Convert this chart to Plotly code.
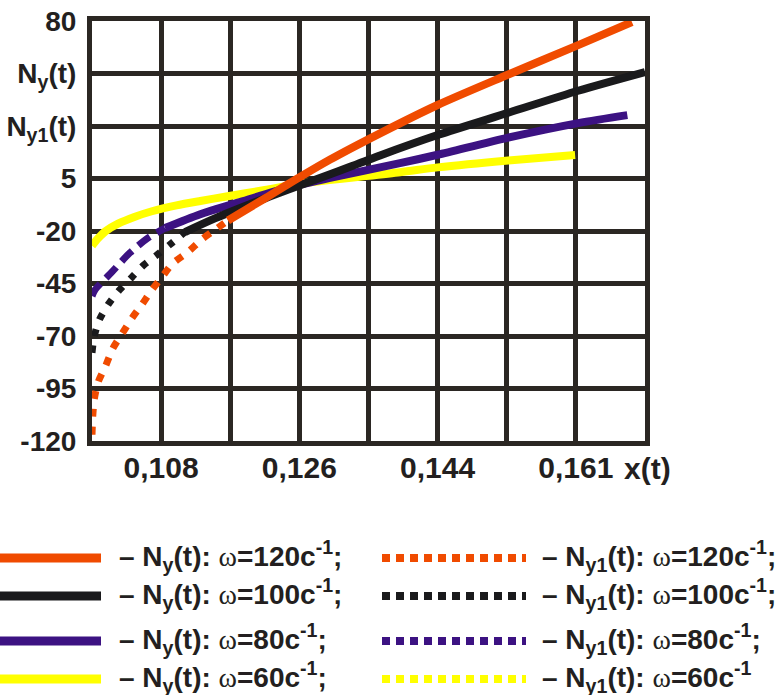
import plotly.graph_objects as go

# ---------------- data ----------------
x_ticks = [0.099, 0.108, 0.117, 0.126, 0.135, 0.144, 0.153, 0.162, 0.171]
x_ticktext = ["", "0,108", "", "0,126", "", "0,144", "", "0,161", ""]
y_ticks = [-120, -95, -70, -45, -20, 5, 30, 55, 80]
y_ticktext = ["-120", "-95", "-70", "-45", "-20", "5",
              "N<sub>y1</sub>(t)", "N<sub>y</sub>(t)", "80"]

# omega = 120 c^-1
ny1_120_x = [0.0990, 0.0991, 0.0993, 0.0998, 0.1008, 0.1017, 0.1029, 0.1042,
             0.1055, 0.1068, 0.1081, 0.1095, 0.1115, 0.1133, 0.1150, 0.1167]
ny1_120_y = [-117, -108, -100, -92, -84, -76, -69, -61.5,
             -55, -48, -42, -35.5, -30, -24, -19.5, -15]
ny_120_x = [0.1167, 0.1215, 0.1244, 0.1300, 0.1365, 0.1440, 0.1532, 0.1623, 0.1693]
ny_120_y = [-15, -4.5, 2, 14, 26.5, 40, 54.5, 68.5, 79.5]

# omega = 100 c^-1
ny1_100_x = [0.0990, 0.0993, 0.1000, 0.1011, 0.1026, 0.1042, 0.1058, 0.1076, 0.1094, 0.1111]
ny1_100_y = [-78, -70, -62, -55, -48, -42, -36, -31, -25.7, -20.5]
ny_100_x = [0.1111, 0.1150, 0.1215, 0.1244, 0.1300, 0.1365, 0.1440, 0.1532, 0.1623, 0.1710]
ny_100_y = [-20.5, -14, -4.5, -0.5, 7, 16, 25.7, 36.3, 46.8, 55.7]

# omega = 80 c^-1
ny1_80_x = [0.0990, 0.0994, 0.1016, 0.1039, 0.1063, 0.1085]
ny1_80_y = [-51, -48, -39.5, -30.5, -23.3, -18.6]
ny_80_x = [0.1085, 0.1131, 0.1180, 0.1244, 0.1300, 0.1391, 0.1440, 0.1532, 0.1623, 0.1687]
ny_80_y = [-18.6, -12, -6.5, 0.5, 5.3, 12.3, 16.3, 24.5, 31.4, 35.2]

# omega = 60 c^-1
ny_60_x = [0.0990, 0.0998, 0.1008, 0.1024, 0.1046, 0.1068, 0.1100, 0.1131, 0.1163,
           0.1215, 0.1261, 0.1391, 0.1440, 0.1532, 0.1619]
ny_60_y = [-27, -23.5, -20, -16.5, -13.2, -10.6, -7.8, -5.7, -3.7,
           -0.5, 2.5, 8.0, 10.3, 13.6, 16.2]

legend_left = ["– N<sub>y</sub>(t): {w}=120c<sup>-1</sup>;",
               "– N<sub>y</sub>(t): {w}=100c<sup>-1</sup>;",
               "– N<sub>y</sub>(t): {w}=80c<sup>-1</sup>;",
               "– N<sub>y</sub>(t): {w}=60c<sup>-1</sup>;"]
legend_right = ["– N<sub>y1</sub>(t): {w}=120c<sup>-1</sup>;",
                "– N<sub>y1</sub>(t): {w}=100c<sup>-1</sup>;",
                "– N<sub>y1</sub>(t): {w}=80c<sup>-1</sup>;",
                "– N<sub>y1</sub>(t): {w}=60c<sup>-1</sup>"]

# ---------------- styling ----------------
W, H = 781, 695
PL, PR, PT, PB = 92, 645, 21, 441          # plot area in pixels
ORANGE, BLACK, PURPLE, YELLOW = "#f04b00", "#1a1a1c", "#3c1282", "#ffff00"
colors = [ORANGE, BLACK, PURPLE, YELLOW]
GRID = "#2b2723"
TXT = "#231f20"
FONT = "Liberation Sans"
OMEGA = "<span style='font-family:Liberation Serif;font-weight:normal'>ω</span>"

fig = go.Figure()

def add(x, y, color, dash=None, width=8):
    fig.add_trace(go.Scatter(x=x, y=y, mode="lines", cliponaxis=False,
                             line=dict(color=color, width=width, dash=dash,
                                       shape="spline", smoothing=0.8),
                             showlegend=False, hoverinfo="skip"))

add(ny1_120_x, ny1_120_y, ORANGE, "8px,10px", 7)
add(ny1_100_x, ny1_100_y, BLACK, "7px,10px", 7)
add(ny1_80_x, ny1_80_y, PURPLE, "15px,8px", 7)
add(ny_60_x, ny_60_y, YELLOW)
add(ny_80_x, ny_80_y, PURPLE)
add(ny_100_x, ny_100_y, BLACK)
add(ny_120_x, ny_120_y, ORANGE)

fig.update_layout(
    width=W, height=H, autosize=False, template="none",
    margin=dict(l=0, r=0, t=0, b=0),
    paper_bgcolor="white", plot_bgcolor="white",
    showlegend=False,
    xaxis=dict(domain=[PL / W, PR / W], range=[0.099, 0.171],
               tickmode="array", tickvals=x_ticks, ticktext=x_ticktext,
               showgrid=True, gridcolor=GRID, gridwidth=5, zeroline=False,
               showline=True, linecolor=GRID, linewidth=5, mirror=True,
               ticks="", ticklabelstandoff=-4, automargin=False,
               tickfont=dict(family=FONT, size=30, weight="bold", color=TXT)),
    yaxis=dict(domain=[1 - PB / H, 1 - PT / H], range=[-120, 80],
               tickmode="array", tickvals=y_ticks, ticktext=y_ticktext,
               showgrid=True, gridcolor=GRID, gridwidth=5, zeroline=False,
               showline=True, linecolor=GRID, linewidth=5, mirror=True,
               ticks="", ticklabelstandoff=5, automargin=False,
               tickfont=dict(family=FONT, size=28, weight="bold", color=TXT)),
)

# x(t) axis name next to last tick label
fig.add_annotation(xref="paper", yref="paper", x=622 / W, y=1 - 468 / H,
                   xanchor="left", yanchor="middle", showarrow=False, text="x(t)",
                   font=dict(family=FONT, size=30, weight="bold", color=TXT))

# custom legend
rows_y = [558, 596, 641, 679]
for i, c in enumerate(colors):
    py = rows_y[i]
    yp = 1 - py / H
    fig.add_shape(type="line", xref="paper", yref="paper", x0=0, x1=101 / W, y0=yp, y1=yp,
                  line=dict(color=c, width=9))
    fig.add_shape(type="line", xref="paper", yref="paper", x0=382 / W, x1=526 / W, y0=yp, y1=yp,
                  line=dict(color=c, width=8, dash="8px,6px"))
    fig.add_annotation(xref="paper", yref="paper", x=117 / W, y=1 - (py - 2) / H,
                       xanchor="left", yanchor="middle", showarrow=False,
                       text=legend_left[i].format(w=OMEGA),
                       font=dict(family=FONT, size=28, weight="bold", color=TXT))
    fig.add_annotation(xref="paper", yref="paper", x=540 / W, y=1 - (py - 2) / H,
                       xanchor="left", yanchor="middle", showarrow=False,
                       text=legend_right[i].format(w=OMEGA),
                       font=dict(family=FONT, size=28, weight="bold", color=TXT))

fig.write_html("out.html")
